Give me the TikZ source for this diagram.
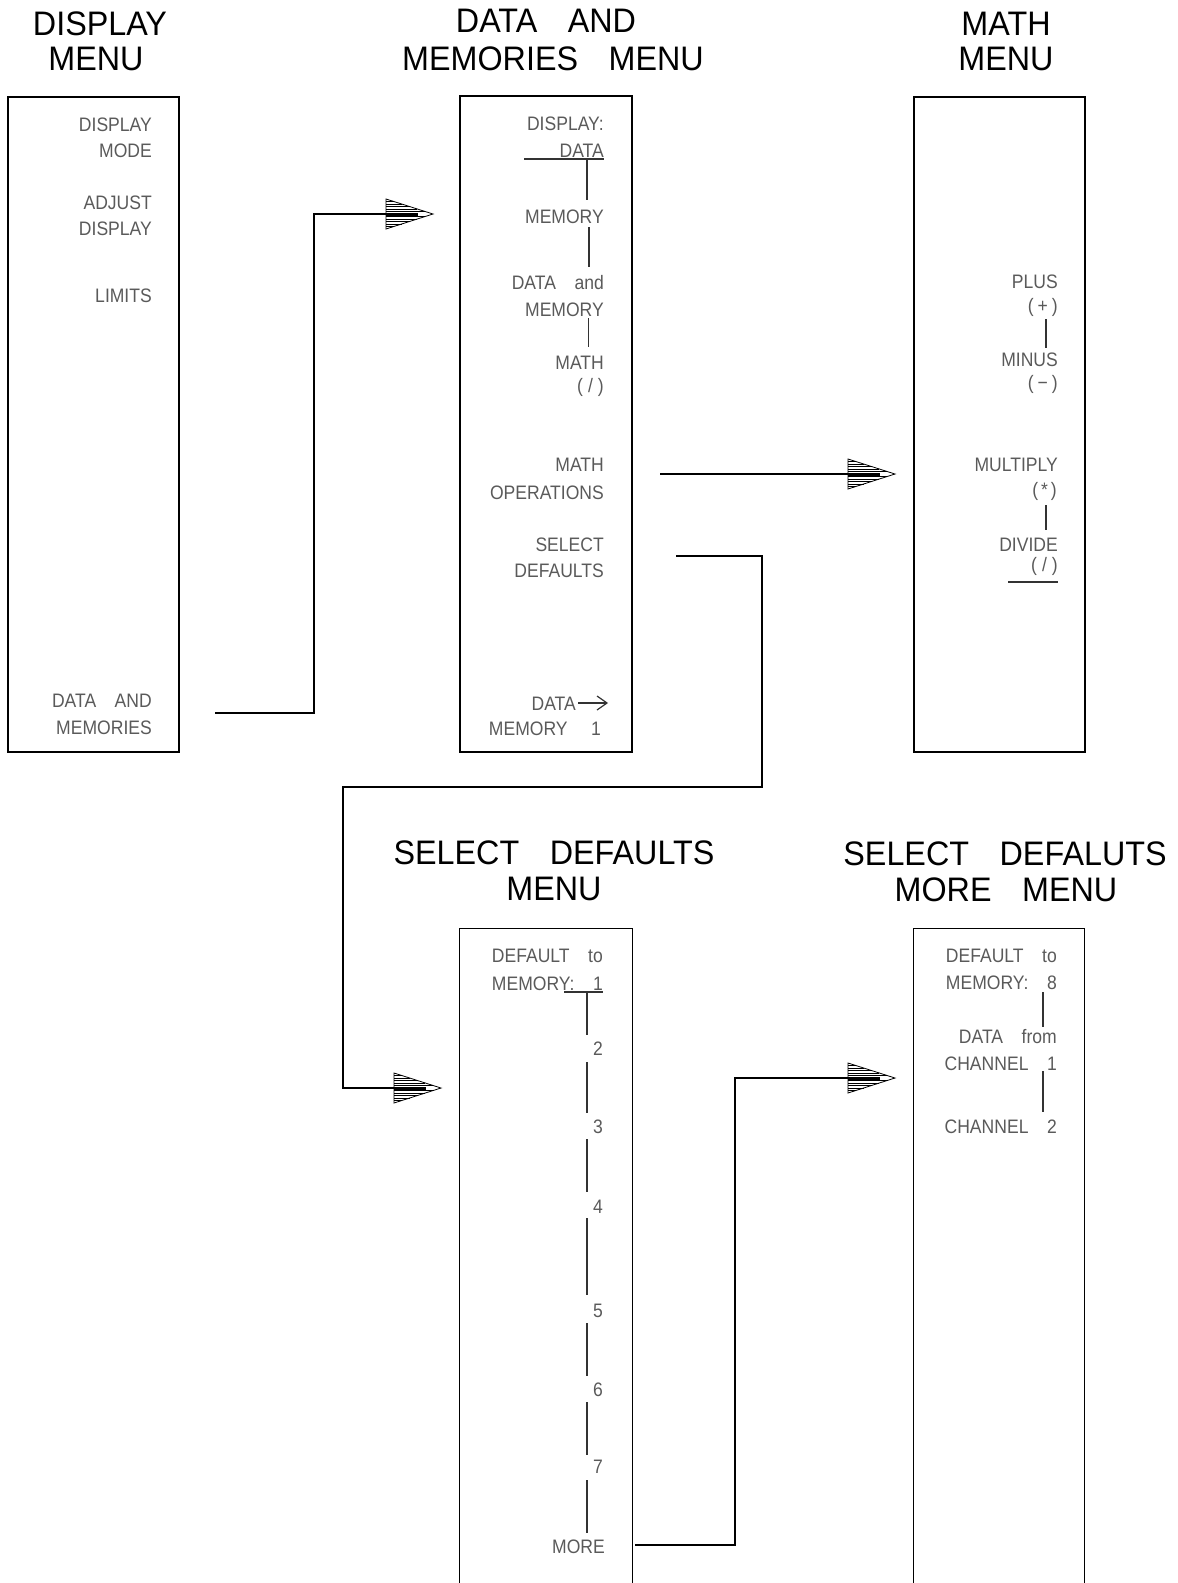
\documentclass[tikz,border=0pt]{standalone}
\usepackage{fontspec}
\setmainfont{Liberation Sans}
\newfontfamily\titlefontfam{Liberation Sans}[FakeStretch=0.95]
\newfontfamily\innerfontfam{Liberation Sans}[FakeStretch=0.9]
\definecolor{labelgray}{HTML}{5A5A5A}
\definecolor{linegray}{HTML}{333333}
\newcommand\tg{\hspace{0.9em}}
\newcommand\ig{\hspace{0.95em}}
\newcommand\pw[2]{(\hspace{#1}#2\hspace{#1})}
\tikzset{
  ttl/.style={font=\titlefontfam\fontsize{34}{36}\selectfont, anchor=base, inner sep=0pt},
  lbl/.style={font=\innerfontfam\fontsize{19.5}{22}\selectfont, text=labelgray, anchor=base east, inner sep=0pt},
  menubox/.style={draw, line width=1.3pt, inner sep=0pt},
  openbox/.style={inner sep=0pt},
  tick/.style={draw=linegray, line width=1.4pt},
  thintick/.style={draw=linegray, line width=0.8pt},
  conn/.style={draw, line width=2pt, line join=miter},
  hatchhead/.pic={
    \draw[line width=0.8pt] (0,-15) -- (47,0) -- (0,15) -- cycle;
    \foreach \k in {-12.5,-10,-7.5,-5,-2.5,2.5,5,7.5,10,12.5}
      \draw[line width=0.9pt] (0,\k) -- ({47*(1-abs(\k)/15)},\k);
    \draw[line width=3pt] (0,0) -- (32,0);
  }
}
\begin{document}
\begin{tikzpicture}[x=1pt,y=-1pt]
\useasboundingbox (0,0) rectangle (1178,1583);

% ---------- titles ----------
\node[ttl] (t1a) at (100,35) {DISPLAY};
\node[ttl] (t1b) at (96,70) {MENU};
\node[ttl] (t2a) at (546,32) {DATA\tg AND};
\node[ttl] (t2b) at (553,70) {MEMORIES\tg MENU};
\node[ttl] (t3a) at (1006,35) {MATH};
\node[ttl] (t3b) at (1006,70) {MENU};
\node[ttl] (t4a) at (554,864) {SELECT\tg DEFAULTS};
\node[ttl] (t4b) at (554,900) {MENU};
\node[ttl] (t5a) at (1005,865) {SELECT\tg DEFALUTS};
\node[ttl] (t5b) at (1006,901) {MORE\tg MENU};

% ---------- boxes ----------
\node[menubox, minimum width=171pt, minimum height=655pt] (dispbox) at (93.5,424.5) {};
\node[menubox, minimum width=172pt, minimum height=656pt] (dmbox) at (546,424) {};
\node[menubox, minimum width=171pt, minimum height=655pt] (mathbox) at (999.5,424.5) {};
\node[openbox, minimum width=172pt, minimum height=654pt] (selbox) at (546,1256) {};
\draw[line width=1.3pt] (selbox.south west) |- (selbox.north east) -- (selbox.south east);
\node[openbox, minimum width=170pt, minimum height=654pt] (morebox) at (999,1256) {};
\draw[line width=1.3pt] (morebox.south west) |- (morebox.north east) -- (morebox.south east);

% ---------- display menu labels ----------
\node[lbl] (d1) at (152,131) {DISPLAY};
\node[lbl] (d2) at (152,157) {MODE};
\node[lbl] (d3) at (152,209) {ADJUST};
\node[lbl] (d4) at (152,235) {DISPLAY};
\node[lbl] (d5) at (152,302) {LIMITS};
\node[lbl] (d6) at (152,707) {DATA\ig AND};
\node[lbl] (d7) at (152,734) {MEMORIES};

% ---------- data and memories labels ----------
\node[lbl] (m1) at (604,130) {DISPLAY:};
\node[lbl] (m2) at (604,157) {DATA};
\node[lbl] (m3) at (604,223) {MEMORY};
\node[lbl] (m4) at (604,289) {DATA\ig and};
\node[lbl] (m5) at (604,316) {MEMORY};
\node[lbl] (m6) at (604,369) {MATH};
\node[lbl] (m7) at (604,392) {\pw{5pt}{/}};
\node[lbl] (m8) at (604,471) {MATH};
\node[lbl] (m9) at (604,499) {OPERATIONS};
\node[lbl] (m10) at (604,551) {SELECT};
\node[lbl] (m11) at (604,577) {DEFAULTS};
\node[lbl] (m12) at (576,710) {DATA};
\node[lbl] (m13) at (601,735) {MEMORY\ig\ 1};
\coordinate (m12a) at (578,703);
\coordinate (m12b) at (607,703);
\draw[tick, line width=1.2pt] (m12a) -- (m12b);
\draw[tick, line width=1.2pt] (597,696) -- (m12b) -- (597,710);
\draw[tick] (524,159) -- (604,159);
\draw[tick] (587,159) -- (587,200);
\draw[tick] (589,227) -- (589,267);
\draw[thintick] (588,318) -- (588,347);

% ---------- math menu labels ----------
\node[lbl] (p1) at (1058,288) {PLUS};
\node[lbl] (p2) at (1058,312) {\pw{4pt}{+}};
\node[lbl] (p3) at (1058,366) {MINUS};
\node[lbl] (p4) at (1058,389) {\pw{4pt}{−}};
\node[lbl] (p5) at (1058,471) {MULTIPLY};
\node[lbl] (p6) at (1057,496) {\pw{3pt}{*}};
\node[lbl] (p7) at (1058,551) {DIVIDE};
\node[lbl] (p8) at (1058,571) {\pw{5pt}{/}};
\draw[tick] (1046,319) -- (1046,348);
\draw[tick] (1046,505) -- (1046,530);
\draw[tick] (1008,582) -- (1058,582);

% ---------- select defaults labels ----------
\node[lbl] (s1) at (603,962) {DEFAULT\ig to};
\node[lbl] (s2) at (603,990) {MEMORY:\ig 1};
\node[lbl] (s3) at (603,1055) {2};
\node[lbl] (s4) at (603,1133) {3};
\node[lbl] (s5) at (603,1213) {4};
\node[lbl] (s6) at (603,1317) {5};
\node[lbl] (s7) at (603,1396) {6};
\node[lbl] (s8) at (603,1473) {7};
\node[lbl] (s9) at (605,1553) {MORE};
\draw[tick] (564,992) -- (603,992);
\draw[tick] (587,992) -- (587,1035);
\draw[tick] (587,1062) -- (587,1113);
\draw[tick] (587,1139) -- (587,1192);
\draw[tick] (587,1218) -- (587,1295);
\draw[tick] (587,1323) -- (587,1376);
\draw[tick] (587,1402) -- (587,1455);
\draw[tick] (587,1480) -- (587,1533);

% ---------- select defaults more labels ----------
\node[lbl] (r1) at (1057,962) {DEFAULT\ig to};
\node[lbl] (r2) at (1057,989) {MEMORY:\ig 8};
\node[lbl] (r3) at (1057,1043) {DATA\ig from};
\node[lbl] (r4) at (1057,1070) {CHANNEL\ig 1};
\node[lbl] (r5) at (1057,1133) {CHANNEL\ig 2};
\draw[tick] (1043,992) -- (1043,1027);
\draw[tick] (1043,1071) -- (1043,1112);

% ---------- connectors ----------
\coordinate (c1s) at (215,713);
\coordinate (c1m) at (314,214);
\coordinate (c1e) at (386,214);
\draw[conn] (c1s) -| (c1m) -- (c1e);
\pic at (c1e) {hatchhead};

\coordinate (c2s) at (660,474);
\coordinate (c2e) at (848,474);
\draw[conn] (c2s) -- (c2e);
\pic at (c2e) {hatchhead};

\coordinate (c3s) at (676,556);
\coordinate (c3a) at (762,787);
\coordinate (c3b) at (343,1088);
\coordinate (c3e) at (394,1088);
\draw[conn] (c3s) -| (c3a) -| (c3b) -- (c3e);
\pic at (c3e) {hatchhead};

\coordinate (c4s) at (635,1545);
\coordinate (c4a) at (735,1078);
\coordinate (c4e) at (848,1078);
\draw[conn] (c4s) -| (c4a) -- (c4e);
\pic at (c4e) {hatchhead};
\end{tikzpicture}
\end{document}
